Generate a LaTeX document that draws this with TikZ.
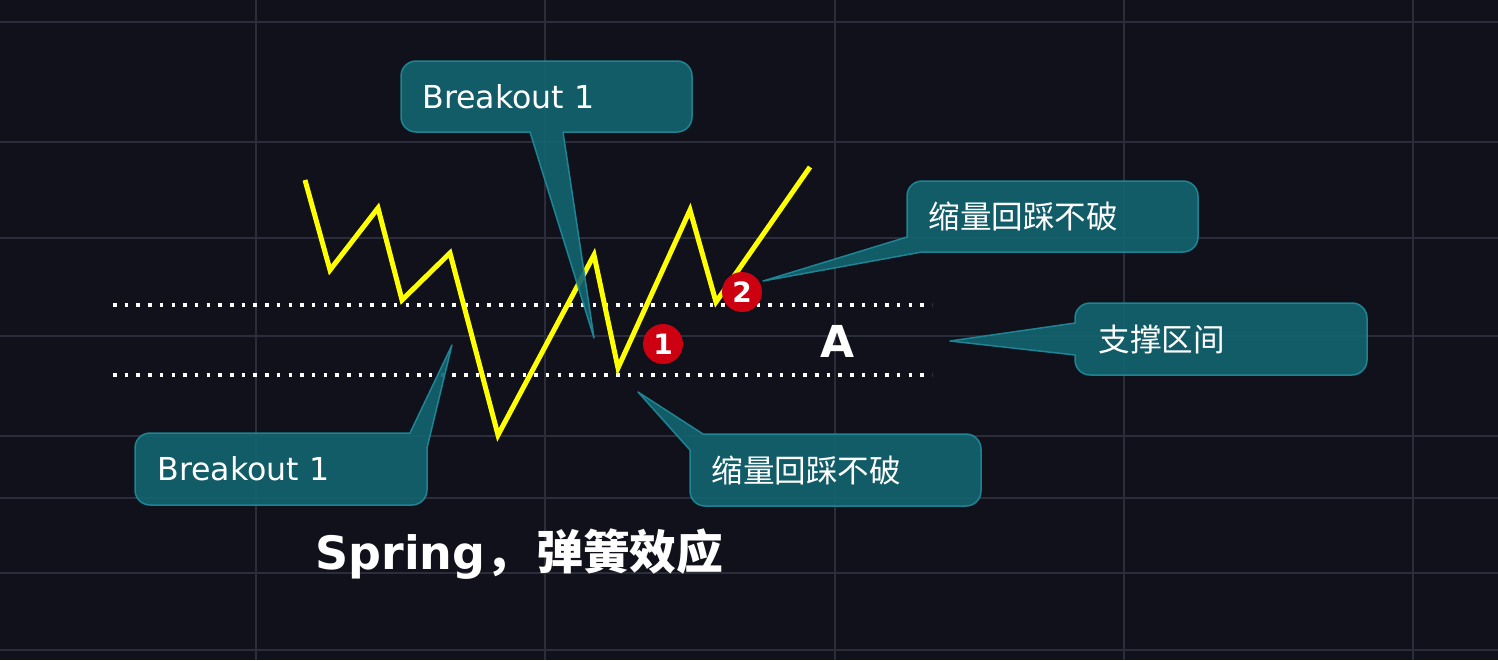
\documentclass[tikz,border=0pt]{standalone}
\usepackage{fontspec}
\setmainfont{DejaVu Sans}
\newfontfamily\cjk{Noto Sans CJK SC}
\definecolor{bg}{RGB}{16,17,27}
\definecolor{gridc}{RGB}{44,45,59}
\definecolor{cfill}{RGB}{19,101,113}
\definecolor{cline}{RGB}{32,140,156}
\definecolor{zig}{RGB}{255,255,0}
\definecolor{badge}{RGB}{204,0,17}
\tikzset{
  gridline/.style={draw=gridc, line width=1pt},
  dotline/.style={draw=white, line width=1.75pt, dash pattern=on 1.75pt off 4.1pt},
  zigline/.style={draw=zig, line width=2.5pt, line join=miter},
  callout/.style={fill=cfill, fill opacity=0.9, draw=cline, draw opacity=0.9, line width=0.75pt, line join=round},
  ctext/.style={text=white, inner sep=0pt, anchor=west, font=\fontsize{15.8}{18}\selectfont},
  cjktext/.style={text=white, inner sep=0pt, anchor=west, font=\cjk\fontsize{15.8}{18}\selectfont},
  badgenode/.style={circle, fill=badge, minimum size=20pt, inner sep=0pt, text=white, font=\bfseries\fontsize{14}{16}\selectfont},
}
\begin{document}
\begin{tikzpicture}[x=0.5pt, y=-0.5pt]
\useasboundingbox (0,0) rectangle (1498,660);
\fill[bg] (0,0) rectangle (1498,660);
% grid
\foreach \gx in {256,545,835,1124,1413} \draw[gridline] (\gx,0) -- (\gx,660);
\foreach \gy in {22,142,238,336,436,498,573,650} \draw[gridline] (0,\gy) -- (1498,\gy);
% support lines
\coordinate (u1) at (113,305); \coordinate (u2) at (932,305);
\coordinate (l1) at (113,375); \coordinate (l2) at (932,375);
\draw[dotline] (u1) -- (u2);
\draw[dotline] (l1) -- (l2);
% zigzag price
\draw[zigline] (305,180) -- (330,270) -- (378,208) -- (402,300) -- (450,253) -- (498,435)
  -- (594,255) -- (618,368) -- (690,210) -- (716,302) -- (810,167);
% callouts
\path[callout] (594,338) -- (530,132) [rounded corners=7.5pt] -- (401,132) -- (401,61) -- (692,61) -- (692,132) [sharp corners] -- (563,132) -- cycle;
\node[ctext] (b1top) at (422,96.5) {Breakout 1};
\path[callout] (452,345) -- (427,448) [rounded corners=7.5pt] -- (427,505) -- (135,505) -- (135,433) [sharp corners] -- (410,433) -- cycle;
\node[ctext] (b1bot) at (157,469) {Breakout 1};
\path[callout] (638,392) -- (703,434) [rounded corners=7.5pt] -- (981,434) -- (981,506) -- (690,506) [sharp corners] -- (690,450) -- cycle;
\node[cjktext] (pb1) at (711,470) {缩量回踩不破};
\path[callout] (763,281) -- (907,237) [rounded corners=7.5pt] -- (907,181) -- (1198,181) -- (1198,252) [sharp corners] -- (922,252) -- cycle;
\node[cjktext] (pb2) at (928,216.5) {缩量回踩不破};
\path[callout] (950,341) -- (1075,323) [rounded corners=7.5pt] -- (1075,303) -- (1367,303) -- (1367,375) -- (1075,375) [sharp corners] -- (1075,355) -- cycle;
\node[cjktext] (zone) at (1098,339) {支撑区间};
% badges
\node[badgenode] (n1) at (663,344) {1};
\node[badgenode] (n2) at (742,292) {2};
% label A
\node[text=white, inner sep=0pt, font=\bfseries\fontsize{22}{26}\selectfont] (A) at (838,341) {A};
% title
\node[text=white, inner sep=0pt, anchor=base west, font=\bfseries\fontsize{23}{27}\selectfont] (title) at (315,569) {Spring{\cjk\fontsize{23.4}{27}\selectfont ，\hspace{2pt}弹簧效应}};
\end{tikzpicture}
\end{document}
